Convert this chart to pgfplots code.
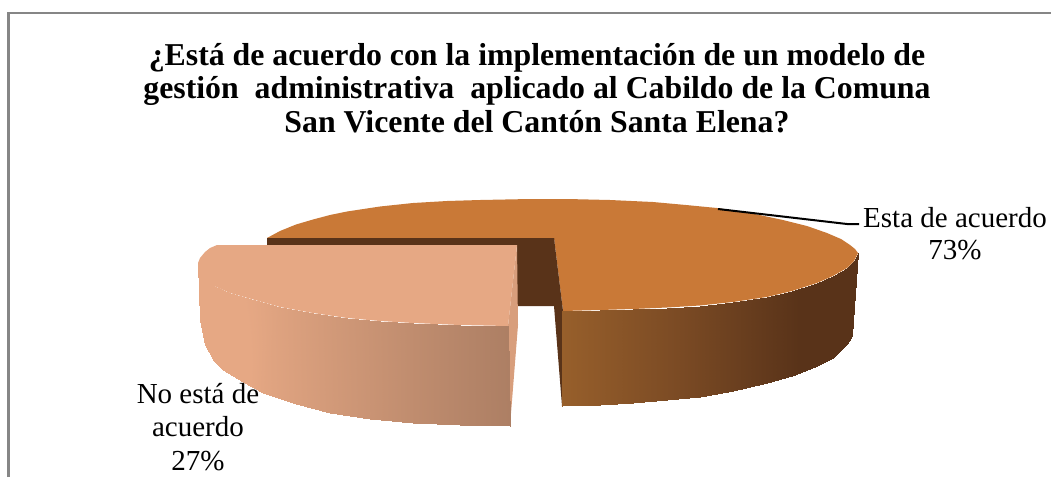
\documentclass[border=0pt]{standalone}
\usepackage{pgfplots}
\pgfplotsset{compat=1.18}
\usepackage{fontspec}
\setmainfont{Liberation Serif}
\definecolor{mainTop}{RGB}{201,121,55}
\definecolor{mainIn}{RGB}{89,51,25}
\definecolor{peachTop}{RGB}{230,168,132}
\definecolor{peachIn}{RGB}{216,158,124}
\definecolor{frameC}{RGB}{134,134,134}
\begin{document}
\begin{tikzpicture}
\begin{axis}[
  scale only axis, width=1051pt, height=477pt,
  xmin=0, xmax=1051, ymin=0, ymax=477, y dir=reverse,
  hide axis, clip=true,
  colormap={mainwall}{rgb255(0)=(151,95,43); rgb255(120)=(122,74,36); rgb255(237)=(89,51,25); rgb255(295)=(89,51,25)},
  colormap={peachwall}{rgb255(0)=(230,168,132); rgb255(40)=(230,168,132); rgb255(300)=(173,127,100)},
]
% frame
\addplot[draw=frameC, line width=2.5pt] coordinates {(8.5,477) (8.5,13) (1051,13)};
% main slice top
\addplot[fill=mainTop, draw=none] coordinates {
(267,238) (280,231) (296,224.5) (313,219.5) (330,215) (347,211.5) (380,206.5) (413,203) (447,201) (480,200) (530,199) (567,199) (610,200) (653,202) (686,205) (717,208) (750,213) (783,220) (807,226) (827,233) (841,239) (850,245) (855,249) (858,253)
(854,261) (847,268) (833,276) (817,283) (792,291) (767,297) (733,302) (700,305.5) (667,307.5) (633,309) (600,310) (563,311) (554,238)} --cycle;
% dark inner walls
\addplot[fill=mainIn, draw=none] coordinates {(267,238) (554,238) (554,306) (517,306) (517,245) (267,245)} --cycle;
\addplot[fill=mainIn, draw=none] coordinates {(554,238) (563,311) (562,406) (554,306)} --cycle;
% main outer wall
\addplot[patch, patch type=rectangle, shader=interp, colormap name=mainwall, point meta=explicit, point meta rel=per plot, point meta min=0, point meta max=295]
table[meta=c] {
x y c
562 311 0
600 310 38
600 405 38
562 406 0
600 310 38
633 309 71
633 403 71
600 405 38
633 309 71
667 307.5 105
667 400 105
633 403 71
667 307.5 105
700 305.5 138
700 397 138
667 400 105
700 305.5 138
733 302 171
733 391 171
700 397 138
733 302 171
767 297 205
767 383 205
733 391 171
767 297 205
792 291 230
792 376 230
767 383 205
792 291 230
817 283 255
817 366 255
792 376 230
817 283 255
833 276 271
833 358 271
817 366 255
833 276 271
847 268 285
845 346 285
833 358 271
847 268 285
854 261 292
850 340 292
845 346 285
854 261 292
858 253 295
852 335 295
850 340 292
};
% peach inner side
\addplot[fill=peachIn, draw=none] coordinates {(517,245) (518,325) (510,426) (508,326)} --cycle;
% peach outer wall
\addplot[patch, patch type=rectangle, shader=interp, colormap name=peachwall, point meta=explicit, point meta rel=per plot, point meta min=0, point meta max=300]
table[meta=c] {
x y c
198 263 0
205 280 0
205 345 0
200 320 0
205 280 0
214 286 5
214 361 5
205 345 0
214 286 5
230 293 30
223 370 15
214 361 5
230 293 30
255 300 50
243 382 30
223 370 15
255 300 50
280 307 80
263 393 60
243 382 30
280 307 80
313 313 115
296 404 95
263 393 60
313 313 115
347 318 150
330 413 130
296 404 95
347 318 150
380 321 182
370 419 170
330 413 130
380 321 182
413 323 215
413 423 215
370 419 170
413 323 215
460 325 258
460 425 258
413 423 215
460 325 258
508 326 300
510 426 300
460 425 258
};
% peach top
\addplot[fill=peachTop, draw=none] coordinates {
(517,245) (217,245) (210,248) (205,252) (200,258) (198,263) (200,272) (205,280) (214,286) (230,293) (255,300) (280,307) (313,313) (347,318) (380,321) (413,323) (460,325) (508,326)} --cycle;
% leader
\addplot[draw=black, line width=2pt] coordinates {(718,209) (847,224) (859,224)};
% labels
\node[align=center, font=\fontsize{31.8}{33.5}\selectfont\bfseries] at (axis cs:537,88) {¿Está de acuerdo con la implementación de un modelo de\\gestión\ \ administrativa\ \ aplicado al Cabildo de la Comuna\\San Vicente del Cantón Santa Elena?};
\node[align=center, font=\fontsize{29}{32}\selectfont] at (axis cs:955,234) {Esta de acuerdo\\73\%};
\node[align=center, font=\fontsize{29}{33.5}\selectfont] at (axis cs:198,427) {No está de\\acuerdo\\27\%};
\end{axis}
\path[use as bounding box] (current axis.south west) rectangle (current axis.north east);
\end{tikzpicture}
\end{document}
